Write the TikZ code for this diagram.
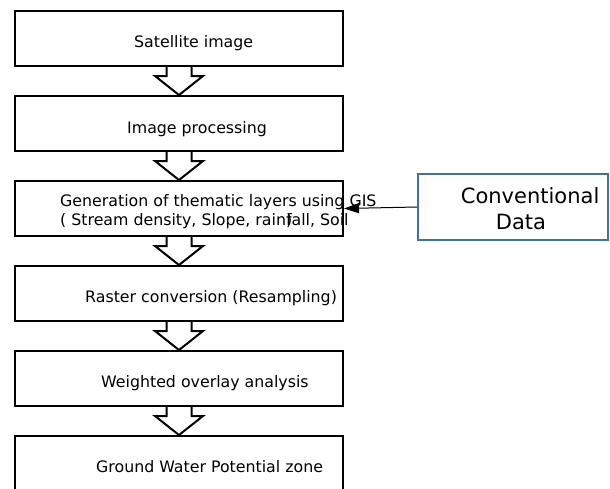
\documentclass[tikz,border=0pt]{standalone}
\usepackage{fontspec}
\setmainfont{DejaVu Sans}
\usepackage{tikz}
\usetikzlibrary{calc,positioning,arrows.meta}
\tikzset{>=stealth}
\tikzset{
  box/.style={draw,line width=2pt,minimum width=328pt,minimum height=55pt,inner sep=0pt},
  convbox/.style={draw=convblue,line width=2pt,minimum width=190pt,minimum height=66pt,inner sep=0pt},
  txt/.style={inner sep=0pt,anchor=base west,font=\fontsize{15.8pt}{19pt}\selectfont},
  blk/.style={draw,fill=white,line width=2pt,line join=miter}
}
\definecolor{convblue}{HTML}{41719C}

\begin{document}
\begin{tikzpicture}[node distance=28pt]

  \useasboundingbox (0,0) rectangle (610pt,-488pt);

  \node[box] at (179pt,-38.5pt) (sat) {};
  \node[box,below=of sat] (proc) {};
  \node[box,below=of proc] (gis) {};
  \node[box,below=of gis] (rast) {};
  \node[box,below=of rast] (wov) {};
  \node[box,below=of wov] (gwp) {};

  \foreach \a/\b in {sat/proc,proc/gis,gis/rast,rast/wov,wov/gwp}
    \draw[blk] ($(\a.south)+(-12.5pt,0)$) -- ++(0,-9pt) -- ++(-11.5pt,0) -- (\b.north)
      -- ($(\a.south)+(24pt,-9pt)$) -- ++(-11.5pt,0) -- ++(0,9pt);

  \node[txt] at ([xshift=120pt,yshift=-9.2pt]sat.west) (satt) {Satellite image};
  \node[txt] at ([xshift=113pt,yshift=-9.8pt]proc.west) (proct) {Image processing};
  \node[txt,align=left] at ([xshift=46pt,yshift=-17.2pt]gis.west) (gist)
    {Generation of thematic layers using GIS\\( Stream density, Slope, rain\rlap{)}fall, Soil};
  \node[txt] at ([xshift=71pt,yshift=-8.8pt]rast.west) (rastt) {Raster conversion (Resampling)};
  \node[txt] at ([xshift=87pt,yshift=-8.8pt]wov.west) (wovt) {Weighted overlay analysis};
  \node[txt] at ([xshift=82pt,yshift=-9.2pt]gwp.west) (gwpt) {Ground Water Potential zone};

  \node[convbox] at (513pt,-207pt) (conv) {};
  \node[txt,align=left,font=\fontsize{21pt}{26pt}\selectfont] at ([xshift=43.7pt,yshift=-22.3pt]conv.west) (convt)
    {Conventional\\\hspace*{35pt}Data};

  \draw[line width=1pt,-{Triangle[length=15pt,width=10pt]}] (conv.west) -- (gis.east);

\end{tikzpicture}
\end{document}
